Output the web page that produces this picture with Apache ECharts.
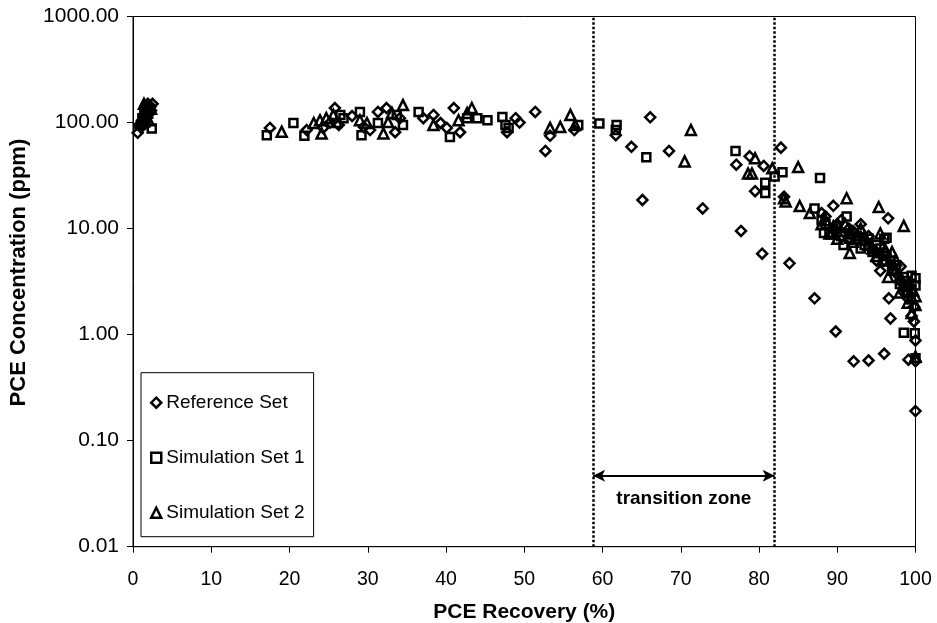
<!DOCTYPE html>
<html>
<head>
<meta charset="utf-8">
<script src="https://cdn.jsdelivr.net/npm/echarts@6/dist/echarts.min.js"></script>
<style>
html,body{margin:0;padding:0;background:#fff;}
#chart{width:937px;height:623px;}
</style>
</head>
<body>
<div id="chart"></div>
<script>
// [PCE Recovery (%), PCE Concentration (ppm)]
var referenceSet = [
  [0.6,80],[1.0,90],[1.2,105],[1.4,118],[1.6,128],[1.8,138],[2.1,145],[2.5,150],[1.3,98],[2.0,120],[1.7,110],
  [0.8,95],[1.5,135],[2.2,140],[1.9,150],[2.3,130],
  [17.5,89],[22.2,85],[24.3,89],[25.2,100],[25.8,137],[26.3,95],[28.0,115],[29.5,91],[30.3,85],[31.3,126],[32.4,137],[33.5,81],[34.1,110],
  [37.1,110],[38.4,118],[39.3,99],[40.1,89],[41.0,137],[41.8,81],[47.8,81],[48.9,110],[49.4,100],[51.4,126],[52.7,54],[53.3,75],[56.4,85],
  [61.7,76],[63.7,59],[65.1,18.6],[66.1,112],[68.5,54],[72.8,15.5],[77.1,40],[77.7,9.5],[78.8,48],[79.5,22.5],[80.4,5.8],[80.6,39],
  [82.8,58],[83.2,20],[83.9,4.7],[87.1,2.2],[88.0,14],[88.5,13],[89.5,16.4],[89.8,1.07],[90.0,11],[90.5,12],[91.0,9],[91.5,10],
  [92.0,9.5],[92.1,0.56],[92.5,8],[93.0,11],[93.5,7.5],[94.0,0.57],[94.0,8.5],[94.5,6.5],[95.0,5],[95.0,6],[95.5,4],[96.0,0.66],
  [96.0,6],[96.0,5],[96.5,12.5],[96.6,2.2],[96.8,1.42],[97.0,4.5],[97.5,3.8],[98.0,3.2],[98.1,4.4],[98.5,2.5],[99.0,2.2],
  [99.1,0.58],[99.5,1.5],[99.8,1.83],[99.8,1.33],[100,0.88],[100,0.56],[100,0.19]
];
var simulationSet1 = [
  [1.0,95],[1.2,110],[1.5,120],[1.6,100],[1.9,130],[2.4,88],
  [17.1,76],[20.5,99],[21.9,75],[26.0,99],[26.5,118],[26.9,110],[29.0,126],[29.2,76],[31.3,99],[33.7,118],[34.5,95],[36.5,126],
  [40.5,73],[42.7,110],[44.0,110],[45.3,105],[47.2,113],[47.6,95],[48.0,89],[56.9,95],[59.6,98],[61.8,95],[61.7,85],[65.6,47],
  [77.0,54],[80.8,27],[80.8,21.6],[82.0,31],[83.0,34],[87.1,15.5],[87.8,30],[88.0,12],[88.3,9.1],[88.5,11],[89.0,9.2],[89.5,10],
  [90.0,10.5],[90.5,8.5],[90.8,7],[91.2,13],[91.5,8],[92.0,9],[92.5,8.5],[93.0,6.5],[93.5,7],[94.0,8],[94.5,6],[95.0,7],[95.5,6.5],
  [96.0,8],[96.3,8.2],[96.3,5.5],[96.8,5],[97.0,4],[97.5,4.5],[98.0,3],[98.5,3.5],[98.8,2.8],[99.0,3.2],[99.5,3.6],[99.5,2.7],
  [100,3.4],[100,2.9],[99.0,2.5],[98.5,1.04],[99.9,1.03],[100,0.6]
];
var simulationSet2 = [
  [1.0,100],[1.3,120],[1.4,150],[1.6,140],[1.8,125],[2.0,105],[2.3,135],
  [19.0,82],[23.1,99],[23.9,105],[24.1,79],[24.7,110],[25.6,118],[29.0,105],[29.9,99],[32.0,79],[32.6,101],[33.1,123],[34.5,146],
  [38.4,95],[41.6,105],[42.7,123],[43.3,137],[53.3,89],[54.6,91],[55.9,118],[56.5,95],[70.5,43],[71.3,85],[78.6,33],[79.1,33],
  [79.5,46],[81.7,37],[83.2,19.3],[83.4,18],[85.0,38],[85.2,16.3],[86.5,14],[88.0,11],[88.5,12],[89.0,9],[89.3,9],[89.5,10.5],
  [90.0,8],[90.5,9.5],[91.2,19.3],[91.0,11],[91.5,9],[91.6,5.9],[92.0,7.5],[92.5,8],[93.0,10],[93.5,8.5],[94.0,7],[94.5,6.5],
  [95.0,5.5],[95.3,16],[95.5,9],[96.0,5],[96.2,6.2],[96.5,3.5],[97.0,6],[97.2,4.2],[97.5,5],[98.0,2.5],[98.2,3.4],[98.5,10.6],
  [99.0,2],[99.2,3],[99.5,2.2],[99.5,1.6],[99.7,2.6],[100,2.3],[100,1.9],[100,0.62]
];
var transitionBounds = [58.8, 82.0];
var arrowLevel = 0.0468;
var zoneLabelPos = [70.4, 0.0286];
var xTicks = {min: 0, max: 100, interval: 10};
var yTicks = {min: 0.01, max: 1000};

var chart = echarts.init(document.getElementById('chart'), null, {renderer: 'canvas'});
var FONT = 'Liberation Sans, Arial, sans-serif';
var markerStyle = {color: 'rgba(255,255,255,0)', borderColor: '#000', borderWidth: 2.5, opacity: 1};

chart.setOption({
  animation: false,
  backgroundColor: '#fff',
  textStyle: {fontFamily: FONT, color: '#000'},
  grid: {left: 133, right: 21.5, top: 16.5, bottom: 76.3, containLabel: false, outerBoundsMode: 'none',
    show: true, borderColor: '#000', borderWidth: 1, backgroundColor: 'transparent'},
  legend: {
    orient: 'vertical', left: 141, top: 372.7,
    padding: [20, 9, 14, 9],
    itemGap: 35, itemWidth: 10, itemHeight: 10,
    backgroundColor: '#fff', borderColor: '#000', borderWidth: 1, borderRadius: 0,
    itemStyle: {color: 'rgba(255,255,255,0)', borderColor: '#000', borderWidth: 2.5, opacity: 1},
    textStyle: {fontFamily: FONT, fontSize: 19, color: '#000', lineHeight: 20},
    data: ['Reference Set', 'Simulation Set 1', 'Simulation Set 2']
  },
  xAxis: {
    type: 'value', min: xTicks.min, max: xTicks.max, interval: xTicks.interval,
    name: 'PCE Recovery (%)', nameLocation: 'middle', nameGap: 55,
    nameTextStyle: {fontFamily: FONT, fontSize: 21, fontWeight: 'bold', color: '#000'},
    axisLine: {onZero: false, lineStyle: {color: '#000', width: 1}},
    axisTick: {length: 6, lineStyle: {color: '#000'}},
    axisLabel: {fontFamily: FONT, fontSize: 19.5, color: '#000', margin: 23},
    splitLine: {show: false}
  },
  yAxis: {
    type: 'log', logBase: 10, min: yTicks.min, max: yTicks.max,
    name: 'PCE Concentration (ppm)', nameLocation: 'middle', nameGap: 103,
    nameTextStyle: {fontFamily: FONT, fontSize: 22, fontWeight: 'bold', color: '#000', padding: [0, 0, 0, 18]},
    axisLine: {show: true, lineStyle: {color: '#000', width: 1}},
    axisTick: {show: true, length: 6, lineStyle: {color: '#000'}},
    axisLabel: {fontFamily: FONT, fontSize: 21, color: '#000', margin: 14,
      formatter: function (v) { return Number(v).toFixed(2); }},
    splitLine: {show: false}
  },
  series: [
    {
      name: 'Reference Set', type: 'scatter', symbol: 'diamond', symbolSize: 10,
      itemStyle: markerStyle, data: referenceSet, z: 3,
      emphasis: {disabled: true},
      markLine: {
        silent: true, symbol: 'none', animation: false,
        lineStyle: {type: [2.5, 2], width: 2.5, color: '#000', opacity: 1},
        label: {show: false},
        data: [{xAxis: transitionBounds[0]}, {xAxis: transitionBounds[1]}]
      }
    },
    {
      name: 'Simulation Set 1', type: 'scatter', symbol: 'rect', symbolSize: 8,
      itemStyle: markerStyle, data: simulationSet1, z: 3,
      emphasis: {disabled: true},
      markLine: {
        silent: true, animation: false, symbol: ['arrow', 'arrow'], symbolSize: [9, 12],
        lineStyle: {type: 'solid', width: 2, color: '#000', opacity: 1},
        label: {show: false},
        data: [[{coord: [transitionBounds[0], arrowLevel]}, {coord: [transitionBounds[1], arrowLevel]}]]
      }
    },
    {
      name: 'Simulation Set 2', type: 'scatter', symbol: 'triangle', symbolSize: 10,
      itemStyle: markerStyle, data: simulationSet2, z: 3,
      emphasis: {disabled: true},
      markPoint: {
        silent: true, animation: false, symbol: 'circle', symbolSize: 0,
        label: {show: true, position: 'inside', formatter: 'transition zone',
          fontFamily: FONT, fontSize: 19, fontWeight: 'bold', color: '#000'},
        data: [{coord: zoneLabelPos}]
      }
    }
  ]
});
</script>
</body>
</html>
